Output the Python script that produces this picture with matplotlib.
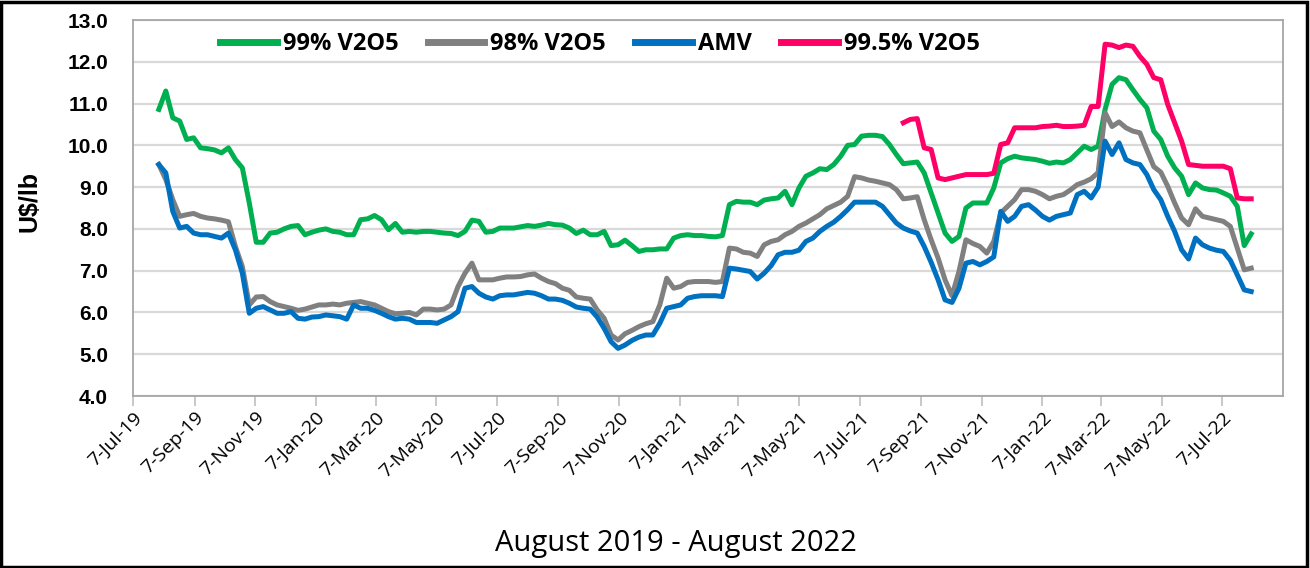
import matplotlib
matplotlib.use("Agg")
import matplotlib.pyplot as plt
import matplotlib.dates as mdates
import matplotlib.patches as mpatches
from matplotlib.ticker import FuncFormatter, MultipleLocator
import pandas as pd

# weekly price series, first week 2 Aug 2019, last week 5 Aug 2022
start_date = "2019-08-02"
n_weeks = 158

v2o5_99 = [
    10.86, 11.30, 10.66, 10.58, 10.14, 10.18, 9.94, 9.92, 9.89, 9.82, 9.94, 9.66, 9.46,
    8.62, 7.68, 7.68, 7.90, 7.92, 8.00, 8.06, 8.08, 7.86, 7.92, 7.97, 8.00, 7.94,
    7.92, 7.86, 7.86, 8.22, 8.24, 8.32, 8.22, 7.98, 8.13, 7.92, 7.94, 7.92, 7.94, 7.94,
    7.92, 7.90, 7.89, 7.84, 7.94, 8.21, 8.18, 7.92, 7.94, 8.02, 8.02, 8.02, 8.05, 8.08,
    8.06, 8.09, 8.13, 8.10, 8.09, 8.02, 7.89, 7.97, 7.86, 7.86, 7.94, 7.60, 7.62, 7.73,
    7.60, 7.46, 7.50, 7.50, 7.52, 7.52, 7.78, 7.84, 7.86, 7.84, 7.84, 7.82, 7.81,
    7.84, 8.58, 8.66, 8.64, 8.64, 8.58, 8.69, 8.72, 8.74, 8.90, 8.58, 8.98, 9.26, 9.34,
    9.44, 9.42, 9.54, 9.74, 10.00, 10.02, 10.22, 10.24, 10.24, 10.21, 10.02, 9.78, 9.56,
    9.58, 9.60, 9.34, 8.86, 8.38, 7.90, 7.70, 7.82, 8.50, 8.62, 8.62, 8.62, 8.98, 9.58,
    9.68, 9.74, 9.70, 9.68, 9.66, 9.62, 9.57, 9.60, 9.58, 9.66, 9.82, 9.98, 9.90, 9.98,
    10.86, 11.46, 11.62, 11.57, 11.33, 11.10, 10.90, 10.34, 10.14, 9.74, 9.46, 9.26,
    8.82, 9.10, 8.98, 8.94, 8.93, 8.86, 8.78, 8.54, 7.60, 7.88,
]

v2o5_98 = [
    9.54, 9.18, 8.70, 8.30, 8.34, 8.37, 8.30, 8.26, 8.24, 8.21, 8.17, 7.58, 7.10,
    6.18, 6.37, 6.38, 6.26, 6.18, 6.14, 6.10, 6.05, 6.08, 6.13, 6.18, 6.18, 6.20,
    6.18, 6.22, 6.24, 6.26, 6.22, 6.18, 6.10, 6.02, 5.97, 5.98, 6.00, 5.94, 6.08, 6.08,
    6.06, 6.08, 6.18, 6.62, 6.94, 7.18, 6.78, 6.78, 6.78, 6.82, 6.85, 6.85, 6.86, 6.90,
    6.92, 6.82, 6.74, 6.69, 6.58, 6.53, 6.37, 6.34, 6.32, 6.06, 5.86, 5.46, 5.34, 5.49,
    5.57, 5.66, 5.73, 5.78, 6.18, 6.82, 6.58, 6.62, 6.72, 6.74, 6.74, 6.74, 6.72,
    6.74, 7.54, 7.52, 7.44, 7.42, 7.34, 7.62, 7.70, 7.74, 7.86, 7.94, 8.06, 8.14, 8.24,
    8.34, 8.48, 8.56, 8.64, 8.78, 9.25, 9.22, 9.17, 9.14, 9.10, 9.06, 8.94, 8.72,
    8.74, 8.77, 8.22, 7.74, 7.30, 6.78, 6.40, 6.98, 7.74, 7.65, 7.58, 7.42, 7.70, 8.38,
    8.54, 8.70, 8.94, 8.94, 8.90, 8.82, 8.72, 8.78, 8.82, 8.93, 9.06, 9.12, 9.20, 9.35,
    10.78, 10.45, 10.56, 10.42, 10.34, 10.30, 9.89, 9.49, 9.36, 9.02, 8.62, 8.26,
    8.10, 8.48, 8.30, 8.26, 8.22, 8.18, 8.06, 7.54, 7.02, 7.06,
]

amv = [
    9.54, 9.34, 8.42, 8.02, 8.06, 7.90, 7.86, 7.86, 7.82, 7.78, 7.90, 7.50, 6.94,
    5.98, 6.10, 6.14, 6.06, 5.98, 5.98, 6.02, 5.86, 5.84, 5.89, 5.90, 5.94, 5.92,
    5.90, 5.84, 6.18, 6.10, 6.10, 6.05, 5.98, 5.90, 5.84, 5.86, 5.84, 5.76, 5.76, 5.76,
    5.74, 5.82, 5.90, 6.02, 6.58, 6.62, 6.46, 6.37, 6.32, 6.40, 6.42, 6.42, 6.45, 6.48,
    6.46, 6.40, 6.32, 6.32, 6.29, 6.22, 6.13, 6.10, 6.08, 5.89, 5.62, 5.30, 5.14, 5.22,
    5.33, 5.41, 5.46, 5.46, 5.74, 6.10, 6.14, 6.18, 6.34, 6.38, 6.40, 6.40, 6.40,
    6.38, 7.06, 7.04, 7.01, 6.98, 6.80, 6.94, 7.12, 7.38, 7.44, 7.44, 7.49, 7.70, 7.78,
    7.94, 8.06, 8.16, 8.30, 8.46, 8.64, 8.64, 8.64, 8.64, 8.54, 8.34, 8.14, 8.02,
    7.95, 7.90, 7.58, 7.20, 6.78, 6.30, 6.24, 6.58, 7.18, 7.22, 7.14, 7.22, 7.33, 8.42,
    8.18, 8.30, 8.54, 8.58, 8.45, 8.30, 8.21, 8.30, 8.34, 8.38, 8.82, 8.90, 8.74, 9.00,
    10.10, 9.78, 10.06, 9.66, 9.58, 9.54, 9.30, 8.94, 8.70, 8.30, 7.94, 7.50,
    7.28, 7.78, 7.62, 7.54, 7.49, 7.46, 7.25, 6.90, 6.54, 6.50,
]

# 99.5% series only starts in week 107 (mid Aug 2021)
v2o5_995_first_week = 107
v2o5_995 = [
    10.54, 10.62, 10.64, 9.94, 9.90, 9.22, 9.18, 9.22, 9.26, 9.30, 9.30, 9.30, 9.30,
    9.33, 10.02, 10.06, 10.42, 10.42, 10.42, 10.42, 10.45, 10.46, 10.48, 10.45, 10.45,
    10.46, 10.48, 10.93, 10.93, 12.42, 12.40, 12.34, 12.40, 12.37, 12.13, 11.94, 11.62,
    11.57, 10.98, 10.54, 10.10, 9.54, 9.52, 9.50, 9.50, 9.50, 9.50, 9.44, 8.74, 8.72, 8.72,
]

series_names = ["99% V2O5", "98% V2O5", "AMV", "99.5% V2O5"]
series_colors = ["#00B050", "#808080", "#0070C0", "#FF0066"]

dates = pd.date_range(start_date, periods=n_weeks, freq="7D")

W, H = 1310, 568
fig = plt.figure(figsize=(W / 100, H / 100), dpi=100)

# outer chart border
fig.patches.append(mpatches.Rectangle((0.001, 0.002), 0.997, 0.995, transform=fig.transFigure,
                                      fill=False, edgecolor="black", linewidth=2.5))

ax = fig.add_axes([133 / W, 1 - 396 / H, (1283 - 133) / W, (396 - 20) / H])

lw = 3.6
ax.plot(dates, v2o5_99, color=series_colors[0], lw=lw, label=series_names[0], solid_joinstyle="round")
ax.plot(dates, v2o5_98, color=series_colors[1], lw=lw, label=series_names[1], solid_joinstyle="round")
ax.plot(dates, amv, color=series_colors[2], lw=lw, label=series_names[2], solid_joinstyle="round")
ax.plot(dates[v2o5_995_first_week:], v2o5_995, color=series_colors[3], lw=lw,
        label=series_names[3], solid_joinstyle="round")

ax.set_ylim(4.0, 13.0)
ax.yaxis.set_major_locator(MultipleLocator(1.0))
ax.yaxis.set_major_formatter(FuncFormatter(lambda v, p: f"{v:.1f}"))
ax.grid(axis="y", color="#D9D9D9", lw=1.6)
ax.set_axisbelow(True)

ax.set_xlim(pd.Timestamp("2019-07-07"), pd.Timestamp("2022-09-06"))
ax.xaxis.set_major_locator(mdates.MonthLocator(bymonth=[1, 3, 5, 7, 9, 11], bymonthday=7))
ax.xaxis.set_major_formatter(FuncFormatter(
    lambda v, p: f"{mdates.num2date(v).day}-{mdates.num2date(v).strftime('%b-%y')}"))

for s in ax.spines.values():
    s.set_color("#A6A6A6")
    s.set_linewidth(1.3)

ax.tick_params(axis="y", length=0, pad=18)
ax.tick_params(axis="x", length=7, width=1.2, color="#BFBFBF", pad=2)
for t in ax.get_yticklabels():
    t.set_fontfamily("Liberation Sans")
    t.set_fontweight("bold")
    t.set_fontsize(15)
for t in ax.get_xticklabels():
    t.set_fontfamily("Open Sans")
    t.set_fontsize(14)
    t.set_rotation(45)
    t.set_ha("right")
    t.set_va("top")
    t.set_rotation_mode("anchor")

fig.text(30 / W, 1 - 201 / H, "U$/lb", rotation=90, ha="center", va="center",
         fontsize=18, fontweight="bold", family="Liberation Sans")
fig.text(676 / W, 1 - 544 / H, "August 2019 - August 2022", ha="center", va="center",
         fontsize=21, family="Open Sans")

leg = fig.legend(loc="center left", bbox_to_anchor=(220 / W, 1 - 44 / H), ncol=4,
                 frameon=False, handlelength=2.4, handletextpad=0.25, columnspacing=1.25,
                 borderpad=0, borderaxespad=0,
                 prop={"family": "Open Sans", "weight": "bold", "size": 17})
for h in leg.get_lines():
    h.set_linewidth(5)

fig.savefig("out.png", dpi=100)
